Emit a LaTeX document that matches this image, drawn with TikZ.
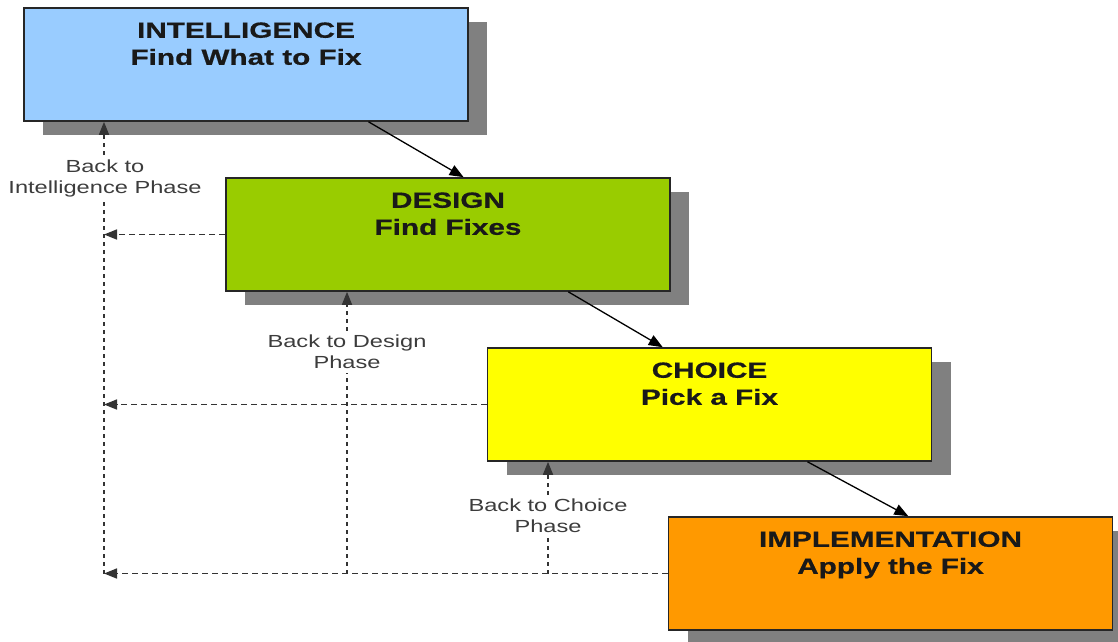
\documentclass[tikz,border=0pt]{standalone}
\usepackage{fontspec}
\setmainfont[FakeStretch=1.35, BoldFeatures={FakeBold=0.6}]{Liberation Sans}
\usetikzlibrary{arrows.meta,calc,shadows}
\definecolor{intblue}{RGB}{153,204,255}
\definecolor{desgreen}{RGB}{153,204,0}
\definecolor{choyellow}{RGB}{255,255,0}
\definecolor{imporange}{RGB}{255,153,0}
\definecolor{shadowgray}{RGB}{128,128,128}
\definecolor{labelgray}{RGB}{60,60,60}

\begin{document}
\begin{tikzpicture}
[
    x=1pt, y=-1pt,
    phase/.style={draw=black!85, line width=1.6pt, minimum width=444pt, minimum height=113pt, inner sep=0pt,
        drop shadow={shadow xshift=19pt, shadow yshift=-14pt, fill=shadowgray, opacity=1}},
    phasetext/.style={anchor=north, align=center, inner sep=0pt, font=\bfseries\fontsize{22}{27}\selectfont, text=black!90},
    backlabel/.style={align=center, inner sep=4pt, font=\fontsize{17.5}{21}\selectfont, text=labelgray},
    flow/.style={-{Triangle[length=14pt,width=11pt]}, line width=1.3pt},
    backh/.style={-{Triangle[length=13pt,width=10pt]}, line width=1.6pt, draw=black!80, dash pattern=on 6pt off 4pt},
    backv/.style={line width=1.6pt, draw=black!80, dash pattern=on 4pt off 4pt},
    backup/.style={backv, -{Triangle[length=13pt,width=10pt]}},
]
\useasboundingbox (0,0) rectangle (1118,641);

\node[phase, fill=intblue] (int) at (246,64.5) {};
\node[phasetext] (intt) at ($(int.north)+(0,15)$) {INTELLIGENCE\\Find What to Fix};
\node[phase, fill=desgreen] (des) at (448,234.5) {};
\node[phasetext] (dest) at ($(des.north)+(0,15)$) {DESIGN\\Find Fixes};
\node[phase, fill=choyellow] (cho) at (709.5,404.5) {};
\node[phasetext] (chot) at ($(cho.north)+(0,15)$) {CHOICE\\Pick a Fix};
\node[phase, fill=imporange] (imp) at (890.5,573.5) {};
\node[phasetext] (impt) at ($(imp.north)+(0,15)$) {IMPLEMENTATION\\Apply the Fix};

\draw[flow] ($(int.south west)!.775!(int.south east)$) -- ($(des.north west)!.535!(des.north east)$);
\draw[flow] ($(des.south west)!.77!(des.south east)$) -- ($(cho.north west)!.395!(cho.north east)$);
\draw[flow] ($(cho.south west)!.72!(cho.south east)$) -- ($(imp.north west)!.54!(imp.north east)$);

\coordinate (ci) at (104,573.5);
\coordinate (cd) at (347,573.5);
\coordinate (cc) at (548,573.5);
\node[backlabel] (li) at (105,178) {Back to\\Intelligence Phase};
\node[backlabel] (ld) at (347,352) {Back to Design\\Phase};
\node[backlabel] (lc) at (548,516) {Back to Choice\\Phase};

\draw[backh] (imp.west) -- (ci);
\draw[backh] (cho.west) -- (cho.west -| ci);
\draw[backh] (des.west) -- (des.west -| ci);
\draw[backv] (ci) -- (ci |- li.south);
\draw[backup] (ci |- li.north) -- (ci |- int.south);
\draw[backv] (cd) -- (ld);
\draw[backup] (ld) -- (ld |- des.south);
\draw[backv] (cc) -- (lc);
\draw[backup] (lc) -- (lc |- cho.south);
\end{tikzpicture}
\end{document}
